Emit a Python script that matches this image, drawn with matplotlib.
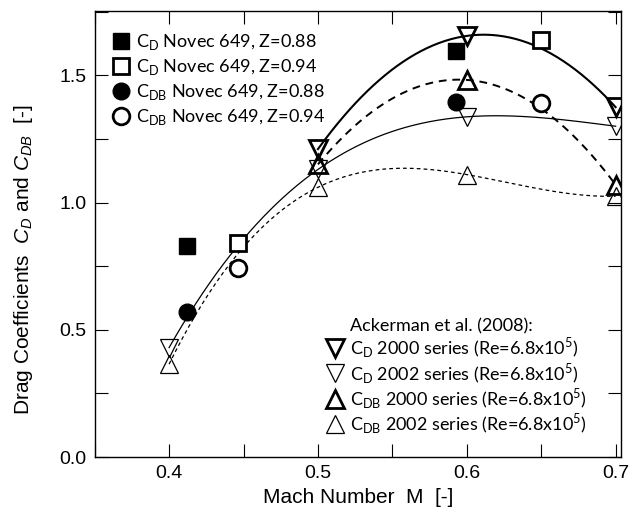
import numpy as np
import matplotlib
matplotlib.use("Agg")
from matplotlib import pyplot as plt
from matplotlib.lines import Line2D
from matplotlib.ticker import MultipleLocator, FormatStrFormatter

# Novec 649 measurements
mach_z088 = [0.412, 0.593]
cd_z088 = [0.83, 1.595]
cdb_z088 = [0.57, 1.397]
mach_z094 = [0.446, 0.65]
cd_z094 = [0.84, 1.64]
cdb_z094 = [0.744, 1.392]

# Ackerman et al. (2008)
mach_2000 = [0.5, 0.6, 0.7]
cd_2000 = [1.21, 1.655, 1.375]
cdb_2000 = [1.15, 1.482, 1.07]
mach_2002 = [0.4, 0.5, 0.6, 0.7]
cd_2002 = [0.43, 1.13, 1.337, 1.30]
cdb_2002 = [0.365, 1.06, 1.11, 1.025]

plt.rcParams["font.family"] = "Liberation Sans"
plt.rcParams["mathtext.fontset"] = "custom"
plt.rcParams["mathtext.rm"] = "Liberation Sans"
plt.rcParams["mathtext.it"] = "Liberation Sans:italic"

LEG_FONT = {"family": "Lato", "size": 13}


def trend(ax, x, y, deg, **kw):
    """Polynomial trend line through a series."""
    coef = np.polyfit(x, y, deg)
    xs = np.linspace(min(x), max(x), 200)
    ax.plot(xs, np.polyval(coef, xs), color="black", zorder=2, **kw)


fig = plt.figure(figsize=(6.44, 5.22), dpi=100)
ax = fig.add_axes([0.147, 0.1245, 0.817, 0.8545])

# trend lines
trend(ax, mach_2000, cd_2000, 2, linewidth=1.5, linestyle="-")
trend(ax, mach_2000, cdb_2000, 2, linewidth=1.4, linestyle=(0, (4, 3)))
trend(ax, mach_2002, cd_2002, 3, linewidth=0.9, linestyle="-")
trend(ax, mach_2002, cdb_2002, 3, linewidth=0.9, linestyle=(0, (3, 2.5)))

# Ackerman markers
tri = dict(linestyle="none", markersize=13, markerfacecolor="none",
           markeredgecolor="black", zorder=3)
h_cd2000, = ax.plot(mach_2000, cd_2000, marker="v", markeredgewidth=2.0, **tri)
h_cd2002, = ax.plot(mach_2002, cd_2002, marker="v", markeredgewidth=0.9, **tri)
h_cdb2000, = ax.plot(mach_2000, cdb_2000, marker="^", markeredgewidth=2.0, **tri)
h_cdb2002, = ax.plot(mach_2002, cdb_2002, marker="^", markeredgewidth=0.9, **tri)

# Novec markers
h_cd88, = ax.plot(mach_z088, cd_z088, "s", color="black", markersize=12,
                  zorder=4)
h_cd94, = ax.plot(mach_z094, cd_z094, "s", markerfacecolor="white",
                  markeredgecolor="black", markeredgewidth=2.0,
                  markersize=12, zorder=4)
h_cdb88, = ax.plot(mach_z088, cdb_z088, "o", color="black", markersize=12,
                   zorder=4)
h_cdb94, = ax.plot(mach_z094, cdb_z094, "o", markerfacecolor="white",
                   markeredgecolor="black", markeredgewidth=2.0,
                   markersize=12, zorder=4)

ax.set_xlim(0.35, 0.7035)
ax.set_ylim(0.0, 1.753)
ax.xaxis.set_major_locator(MultipleLocator(0.1))
ax.xaxis.set_minor_locator(MultipleLocator(0.05))
ax.yaxis.set_major_locator(MultipleLocator(0.5))
ax.yaxis.set_minor_locator(MultipleLocator(0.25))
ax.xaxis.set_major_formatter(FormatStrFormatter("%.1f"))
ax.yaxis.set_major_formatter(FormatStrFormatter("%.1f"))
ax.tick_params(which="both", direction="in", top=True, right=True,
               length=9.5, width=0.8, labelsize=14, pad=6)
for sp in ax.spines.values():
    sp.set_linewidth(1.0)

ax.set_xlabel("Mach Number  M  [-]", fontsize=15)
ax.set_ylabel(r"Drag Coefficients  $C_D$ and $C_{DB}$  [-]", fontsize=15)
ax.xaxis.set_label_coords(0.5, -0.07)
ax.yaxis.set_label_coords(-0.113, 0.443)

leg1 = ax.legend(
    [h_cd88, h_cd94, h_cdb88, h_cdb94],
    [r"C$_\mathregular{D}$ Novec 649, Z=0.88",
     r"C$_\mathregular{D}$ Novec 649, Z=0.94",
     r"C$_\mathregular{DB}$ Novec 649, Z=0.88",
     r"C$_\mathregular{DB}$ Novec 649, Z=0.94"],
    loc="upper left", bbox_to_anchor=(0.033, 0.953), frameon=False,
    prop=LEG_FONT, handlelength=1.0, handletextpad=0.3, labelspacing=0.28,
    borderpad=0, borderaxespad=0,
)
ax.add_artist(leg1)

blank = Line2D([], [], linestyle="none", marker="none")
ax.legend(
    [blank, h_cd2000, h_cd2002, h_cdb2000, h_cdb2002],
    ["Ackerman et al. (2008):",
     r"C$_\mathregular{D}$ 2000 series (Re=6.8x10$^\mathregular{5}$)",
     r"C$_\mathregular{D}$ 2002 series (Re=6.8x10$^\mathregular{5}$)",
     r"C$_\mathregular{DB}$ 2000 series (Re=6.8x10$^\mathregular{5}$)",
     r"C$_\mathregular{DB}$ 2002 series (Re=6.8x10$^\mathregular{5}$)"],
    loc="lower left", bbox_to_anchor=(0.44, 0.046), frameon=False,
    prop=LEG_FONT, handlelength=1.0, handletextpad=0.3, labelspacing=0.03,
    borderpad=0, borderaxespad=0,
)

fig.savefig("out.png", dpi=100)
